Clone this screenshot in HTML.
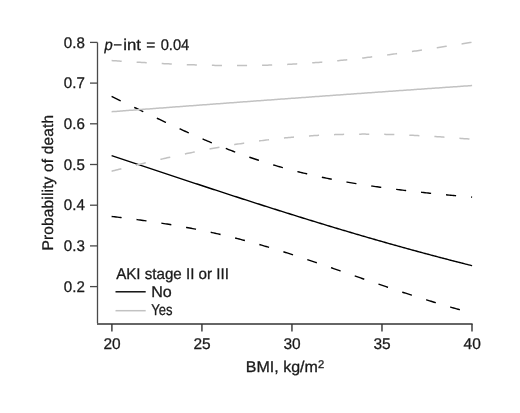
<!DOCTYPE html>
<html><head><meta charset="utf-8"><style>
html,body{margin:0;padding:0;background:#fff;}
svg{display:block;will-change:transform;}
text{font-family:"Liberation Sans",sans-serif;font-size:15.5px;fill:#1a1a1a;text-rendering:geometricPrecision;stroke:#1a1a1a;stroke-width:0.3px;}
</style></head><body>
<svg width="520" height="413" viewBox="0 0 520 413">
<rect width="520" height="413" fill="#fff"/>
<g fill="none" stroke-linecap="butt" stroke-linejoin="round">
<path d="M111.60 96.44 L113.10 97.16 L114.60 97.88 L116.10 98.61 L117.60 99.33 L119.10 100.05 L120.60 100.77 L122.10 101.50 L123.60 102.22 L125.10 102.94 L126.60 103.67 L128.10 104.39 L129.60 105.11 L131.10 105.84 L132.60 106.56 L134.10 107.28 L135.60 108.00 L137.10 108.73 L138.60 109.45 L140.10 110.17 L141.60 110.89 L143.10 111.61 L144.60 112.33 L146.10 113.04 L147.60 113.76 L149.10 114.48 L150.60 115.19 L152.10 115.91 L153.60 116.62 L155.10 117.33 L156.60 118.04 L158.10 118.75 L159.60 119.46 L161.10 120.17 L162.60 120.88 L164.10 121.58 L165.60 122.28 L167.10 122.98 L168.60 123.68 L170.10 124.38 L171.60 125.08 L173.10 125.77 L174.60 126.46 L176.10 127.15 L177.60 127.84 L179.10 128.52 L180.60 129.21 L182.10 129.89 L183.60 130.57 L185.10 131.24 L186.60 131.92 L188.10 132.59 L189.60 133.26 L191.10 133.92 L192.60 134.59 L194.10 135.25 L195.60 135.90 L197.10 136.56 L198.60 137.21 L200.10 137.86 L201.60 138.51 L203.10 139.15 L204.60 139.79 L206.10 140.42 L207.60 141.06 L209.10 141.69 L210.60 142.31 L212.10 142.93 L213.60 143.55 L215.10 144.17 L216.60 144.78 L218.10 145.39 L219.60 145.99 L221.10 146.59 L222.60 147.19 L224.10 147.78 L225.60 148.37 L227.10 148.96 L228.60 149.54 L230.10 150.11 L231.60 150.69 L233.10 151.26 L234.60 151.82 L236.10 152.38 L237.60 152.94 L239.10 153.49 L240.60 154.04 L242.10 154.58 L243.60 155.12 L245.10 155.65 L246.60 156.18 L248.10 156.71 L249.60 157.23 L251.10 157.75 L252.60 158.26 L254.10 158.77 L255.60 159.27 L257.10 159.77 L258.60 160.27 L260.10 160.76 L261.60 161.25 L263.10 161.73 L264.60 162.20 L266.10 162.68 L267.60 163.14 L269.10 163.61 L270.60 164.07 L272.10 164.52 L273.60 164.97 L275.10 165.42 L276.60 165.86 L278.10 166.30 L279.60 166.73 L281.10 167.16 L282.60 167.58 L284.10 168.00 L285.60 168.41 L287.10 168.82 L288.60 169.23 L290.10 169.63 L291.60 170.03 L293.10 170.42 L294.60 170.81 L296.10 171.20 L297.60 171.58 L299.10 171.96 L300.60 172.33 L302.10 172.70 L303.60 173.06 L305.10 173.42 L306.60 173.78 L308.10 174.13 L309.60 174.48 L311.10 174.83 L312.60 175.17 L314.10 175.51 L315.60 175.84 L317.10 176.17 L318.60 176.50 L320.10 176.82 L321.60 177.14 L323.10 177.46 L324.60 177.77 L326.10 178.08 L327.60 178.38 L329.10 178.69 L330.60 178.99 L332.10 179.28 L333.60 179.57 L335.10 179.86 L336.60 180.15 L338.10 180.43 L339.60 180.71 L341.10 180.99 L342.60 181.26 L344.10 181.53 L345.60 181.80 L347.10 182.07 L348.60 182.33 L350.10 182.59 L351.60 182.84 L353.10 183.10 L354.60 183.35 L356.10 183.60 L357.60 183.84 L359.10 184.08 L360.60 184.33 L362.10 184.56 L363.60 184.80 L365.10 185.03 L366.60 185.26 L368.10 185.49 L369.60 185.72 L371.10 185.94 L372.60 186.16 L374.10 186.38 L375.60 186.60 L377.10 186.81 L378.60 187.02 L380.10 187.24 L381.60 187.44 L383.10 187.65 L384.60 187.85 L386.10 188.06 L387.60 188.26 L389.10 188.46 L390.60 188.65 L392.10 188.85 L393.60 189.04 L395.10 189.23 L396.60 189.42 L398.10 189.61 L399.60 189.79 L401.10 189.98 L402.60 190.16 L404.10 190.34 L405.60 190.52 L407.10 190.70 L408.60 190.87 L410.10 191.05 L411.60 191.22 L413.10 191.39 L414.60 191.56 L416.10 191.73 L417.60 191.90 L419.10 192.06 L420.60 192.22 L422.10 192.39 L423.60 192.55 L425.10 192.71 L426.60 192.87 L428.10 193.02 L429.60 193.18 L431.10 193.34 L432.60 193.49 L434.10 193.64 L435.60 193.79 L437.10 193.94 L438.60 194.09 L440.10 194.24 L441.60 194.39 L443.10 194.53 L444.60 194.67 L446.10 194.82 L447.60 194.96 L449.10 195.10 L450.60 195.24 L452.10 195.38 L453.60 195.52 L455.10 195.66 L456.60 195.79 L458.10 195.93 L459.60 196.06 L461.10 196.19 L462.60 196.33 L464.10 196.46 L465.60 196.59 L467.10 196.72 L468.60 196.85 L470.10 196.97 L471.60 197.10 L472.10 197.14" stroke="#000" stroke-width="1.4" stroke-dasharray="10.1 15"/>
<path d="M111.60 216.45 L113.10 216.62 L114.60 216.80 L116.10 216.97 L117.60 217.15 L119.10 217.33 L120.60 217.52 L122.10 217.70 L123.60 217.88 L125.10 218.07 L126.60 218.26 L128.10 218.45 L129.60 218.64 L131.10 218.83 L132.60 219.03 L134.10 219.23 L135.60 219.42 L137.10 219.62 L138.60 219.83 L140.10 220.03 L141.60 220.24 L143.10 220.45 L144.60 220.66 L146.10 220.87 L147.60 221.08 L149.10 221.30 L150.60 221.52 L152.10 221.74 L153.60 221.96 L155.10 222.18 L156.60 222.41 L158.10 222.64 L159.60 222.87 L161.10 223.11 L162.60 223.34 L164.10 223.58 L165.60 223.82 L167.10 224.06 L168.60 224.31 L170.10 224.56 L171.60 224.81 L173.10 225.06 L174.60 225.32 L176.10 225.57 L177.60 225.83 L179.10 226.10 L180.60 226.36 L182.10 226.63 L183.60 226.90 L185.10 227.18 L186.60 227.45 L188.10 227.73 L189.60 228.01 L191.10 228.30 L192.60 228.59 L194.10 228.88 L195.60 229.17 L197.10 229.47 L198.60 229.77 L200.10 230.07 L201.60 230.37 L203.10 230.68 L204.60 230.99 L206.10 231.31 L207.60 231.63 L209.10 231.95 L210.60 232.27 L212.10 232.60 L213.60 232.93 L215.10 233.26 L216.60 233.60 L218.10 233.94 L219.60 234.28 L221.10 234.62 L222.60 234.97 L224.10 235.33 L225.60 235.68 L227.10 236.04 L228.60 236.40 L230.10 236.77 L231.60 237.14 L233.10 237.51 L234.60 237.88 L236.10 238.26 L237.60 238.64 L239.10 239.03 L240.60 239.41 L242.10 239.81 L243.60 240.20 L245.10 240.60 L246.60 241.00 L248.10 241.40 L249.60 241.81 L251.10 242.22 L252.60 242.63 L254.10 243.05 L255.60 243.47 L257.10 243.89 L258.60 244.32 L260.10 244.74 L261.60 245.18 L263.10 245.61 L264.60 246.05 L266.10 246.49 L267.60 246.93 L269.10 247.38 L270.60 247.83 L272.10 248.28 L273.60 248.73 L275.10 249.19 L276.60 249.65 L278.10 250.11 L279.60 250.57 L281.10 251.04 L282.60 251.51 L284.10 251.98 L285.60 252.46 L287.10 252.93 L288.60 253.41 L290.10 253.89 L291.60 254.38 L293.10 254.86 L294.60 255.35 L296.10 255.84 L297.60 256.33 L299.10 256.82 L300.60 257.32 L302.10 257.81 L303.60 258.31 L305.10 258.81 L306.60 259.31 L308.10 259.82 L309.60 260.32 L311.10 260.83 L312.60 261.34 L314.10 261.85 L315.60 262.36 L317.10 262.87 L318.60 263.38 L320.10 263.89 L321.60 264.41 L323.10 264.92 L324.60 265.44 L326.10 265.96 L327.60 266.47 L329.10 266.99 L330.60 267.51 L332.10 268.03 L333.60 268.55 L335.10 269.07 L336.60 269.60 L338.10 270.12 L339.60 270.64 L341.10 271.16 L342.60 271.69 L344.10 272.21 L345.60 272.73 L347.10 273.25 L348.60 273.78 L350.10 274.30 L351.60 274.82 L353.10 275.35 L354.60 275.87 L356.10 276.39 L357.60 276.91 L359.10 277.43 L360.60 277.96 L362.10 278.48 L363.60 279.00 L365.10 279.52 L366.60 280.04 L368.10 280.55 L369.60 281.07 L371.10 281.59 L372.60 282.11 L374.10 282.62 L375.60 283.14 L377.10 283.65 L378.60 284.16 L380.10 284.68 L381.60 285.19 L383.10 285.70 L384.60 286.21 L386.10 286.71 L387.60 287.22 L389.10 287.73 L390.60 288.23 L392.10 288.73 L393.60 289.24 L395.10 289.74 L396.60 290.23 L398.10 290.73 L399.60 291.23 L401.10 291.72 L402.60 292.22 L404.10 292.71 L405.60 293.20 L407.10 293.69 L408.60 294.18 L410.10 294.66 L411.60 295.15 L413.10 295.63 L414.60 296.11 L416.10 296.59 L417.60 297.07 L419.10 297.54 L420.60 298.02 L422.10 298.49 L423.60 298.96 L425.10 299.43 L426.60 299.90 L428.10 300.36 L429.60 300.83 L431.10 301.29 L432.60 301.75 L434.10 302.21 L435.60 302.66 L437.10 303.11 L438.60 303.57 L440.10 304.02 L441.60 304.46 L443.10 304.91 L444.60 305.36 L446.10 305.80 L447.60 306.24 L449.10 306.68 L450.60 307.11 L452.10 307.55 L453.60 307.98 L455.10 308.41 L456.60 308.83 L458.10 309.26 L459.60 309.68 L461.10 310.11 L462.60 310.53 L464.10 310.94 L465.60 311.36 L467.10 311.77 L468.60 312.18 L470.10 312.59 L471.60 313.00 L472.10 313.13" stroke="#000" stroke-width="1.4" stroke-dasharray="10.1 15"/>
<path d="M111.60 155.68 L113.10 156.17 L114.60 156.67 L116.10 157.17 L117.60 157.67 L119.10 158.17 L120.60 158.66 L122.10 159.16 L123.60 159.66 L125.10 160.16 L126.60 160.66 L128.10 161.16 L129.60 161.66 L131.10 162.15 L132.60 162.65 L134.10 163.15 L135.60 163.65 L137.10 164.15 L138.60 164.65 L140.10 165.15 L141.60 165.65 L143.10 166.14 L144.60 166.64 L146.10 167.14 L147.60 167.64 L149.10 168.14 L150.60 168.64 L152.10 169.14 L153.60 169.63 L155.10 170.13 L156.60 170.63 L158.10 171.13 L159.60 171.63 L161.10 172.13 L162.60 172.62 L164.10 173.12 L165.60 173.62 L167.10 174.12 L168.60 174.62 L170.10 175.11 L171.60 175.61 L173.10 176.11 L174.60 176.60 L176.10 177.10 L177.60 177.60 L179.10 178.10 L180.60 178.59 L182.10 179.09 L183.60 179.58 L185.10 180.08 L186.60 180.58 L188.10 181.07 L189.60 181.57 L191.10 182.06 L192.60 182.56 L194.10 183.05 L195.60 183.55 L197.10 184.04 L198.60 184.53 L200.10 185.03 L201.60 185.52 L203.10 186.02 L204.60 186.51 L206.10 187.00 L207.60 187.49 L209.10 187.99 L210.60 188.48 L212.10 188.97 L213.60 189.46 L215.10 189.95 L216.60 190.44 L218.10 190.93 L219.60 191.42 L221.10 191.91 L222.60 192.40 L224.10 192.89 L225.60 193.38 L227.10 193.87 L228.60 194.36 L230.10 194.85 L231.60 195.33 L233.10 195.82 L234.60 196.31 L236.10 196.79 L237.60 197.28 L239.10 197.77 L240.60 198.25 L242.10 198.74 L243.60 199.22 L245.10 199.70 L246.60 200.19 L248.10 200.67 L249.60 201.15 L251.10 201.64 L252.60 202.12 L254.10 202.60 L255.60 203.08 L257.10 203.56 L258.60 204.04 L260.10 204.52 L261.60 205.00 L263.10 205.48 L264.60 205.96 L266.10 206.44 L267.60 206.91 L269.10 207.39 L270.60 207.87 L272.10 208.34 L273.60 208.82 L275.10 209.29 L276.60 209.77 L278.10 210.24 L279.60 210.71 L281.10 211.19 L282.60 211.66 L284.10 212.13 L285.60 212.60 L287.10 213.07 L288.60 213.54 L290.10 214.01 L291.60 214.48 L293.10 214.95 L294.60 215.42 L296.10 215.88 L297.60 216.35 L299.10 216.82 L300.60 217.28 L302.10 217.75 L303.60 218.21 L305.10 218.68 L306.60 219.14 L308.10 219.60 L309.60 220.06 L311.10 220.52 L312.60 220.99 L314.10 221.45 L315.60 221.91 L317.10 222.36 L318.60 222.82 L320.10 223.28 L321.60 223.74 L323.10 224.19 L324.60 224.65 L326.10 225.10 L327.60 225.56 L329.10 226.01 L330.60 226.46 L332.10 226.92 L333.60 227.37 L335.10 227.82 L336.60 228.27 L338.10 228.72 L339.60 229.17 L341.10 229.61 L342.60 230.06 L344.10 230.51 L345.60 230.95 L347.10 231.40 L348.60 231.84 L350.10 232.29 L351.60 232.73 L353.10 233.17 L354.60 233.62 L356.10 234.06 L357.60 234.50 L359.10 234.94 L360.60 235.37 L362.10 235.81 L363.60 236.25 L365.10 236.69 L366.60 237.12 L368.10 237.56 L369.60 237.99 L371.10 238.42 L372.60 238.86 L374.10 239.29 L375.60 239.72 L377.10 240.15 L378.60 240.58 L380.10 241.01 L381.60 241.44 L383.10 241.86 L384.60 242.29 L386.10 242.71 L387.60 243.14 L389.10 243.56 L390.60 243.99 L392.10 244.41 L393.60 244.83 L395.10 245.25 L396.60 245.67 L398.10 246.09 L399.60 246.51 L401.10 246.92 L402.60 247.34 L404.10 247.76 L405.60 248.17 L407.10 248.59 L408.60 249.00 L410.10 249.41 L411.60 249.82 L413.10 250.23 L414.60 250.64 L416.10 251.05 L417.60 251.46 L419.10 251.87 L420.60 252.27 L422.10 252.68 L423.60 253.08 L425.10 253.49 L426.60 253.89 L428.10 254.29 L429.60 254.69 L431.10 255.10 L432.60 255.49 L434.10 255.89 L435.60 256.29 L437.10 256.69 L438.60 257.08 L440.10 257.48 L441.60 257.87 L443.10 258.27 L444.60 258.66 L446.10 259.05 L447.60 259.44 L449.10 259.83 L450.60 260.22 L452.10 260.61 L453.60 260.99 L455.10 261.38 L456.60 261.77 L458.10 262.15 L459.60 262.53 L461.10 262.92 L462.60 263.30 L464.10 263.68 L465.60 264.06 L467.10 264.44 L468.60 264.82 L470.10 265.19 L471.60 265.57 L472.10 265.69" stroke="#000" stroke-width="1.4"/>
<path d="M111.60 60.53 L113.10 60.64 L114.60 60.74 L116.10 60.84 L117.60 60.94 L119.10 61.04 L120.60 61.14 L122.10 61.24 L123.60 61.33 L125.10 61.43 L126.60 61.53 L128.10 61.62 L129.60 61.72 L131.10 61.81 L132.60 61.90 L134.10 62.00 L135.60 62.09 L137.10 62.18 L138.60 62.27 L140.10 62.36 L141.60 62.45 L143.10 62.53 L144.60 62.62 L146.10 62.71 L147.60 62.79 L149.10 62.87 L150.60 62.96 L152.10 63.04 L153.60 63.12 L155.10 63.20 L156.60 63.28 L158.10 63.35 L159.60 63.43 L161.10 63.51 L162.60 63.58 L164.10 63.66 L165.60 63.73 L167.10 63.80 L168.60 63.87 L170.10 63.94 L171.60 64.01 L173.10 64.07 L174.60 64.14 L176.10 64.20 L177.60 64.27 L179.10 64.33 L180.60 64.39 L182.10 64.45 L183.60 64.51 L185.10 64.56 L186.60 64.62 L188.10 64.67 L189.60 64.72 L191.10 64.78 L192.60 64.83 L194.10 64.87 L195.60 64.92 L197.10 64.97 L198.60 65.01 L200.10 65.05 L201.60 65.09 L203.10 65.13 L204.60 65.17 L206.10 65.21 L207.60 65.24 L209.10 65.28 L210.60 65.31 L212.10 65.34 L213.60 65.37 L215.10 65.39 L216.60 65.42 L218.10 65.44 L219.60 65.46 L221.10 65.48 L222.60 65.50 L224.10 65.52 L225.60 65.53 L227.10 65.55 L228.60 65.56 L230.10 65.57 L231.60 65.57 L233.10 65.58 L234.60 65.58 L236.10 65.58 L237.60 65.58 L239.10 65.58 L240.60 65.58 L242.10 65.57 L243.60 65.56 L245.10 65.55 L246.60 65.54 L248.10 65.52 L249.60 65.51 L251.10 65.49 L252.60 65.47 L254.10 65.45 L255.60 65.42 L257.10 65.39 L258.60 65.36 L260.10 65.33 L261.60 65.30 L263.10 65.26 L264.60 65.23 L266.10 65.19 L267.60 65.14 L269.10 65.10 L270.60 65.05 L272.10 65.01 L273.60 64.95 L275.10 64.90 L276.60 64.85 L278.10 64.79 L279.60 64.73 L281.10 64.67 L282.60 64.60 L284.10 64.53 L285.60 64.47 L287.10 64.39 L288.60 64.32 L290.10 64.25 L291.60 64.17 L293.10 64.09 L294.60 64.00 L296.10 63.92 L297.60 63.83 L299.10 63.74 L300.60 63.65 L302.10 63.56 L303.60 63.46 L305.10 63.36 L306.60 63.26 L308.10 63.16 L309.60 63.06 L311.10 62.95 L312.60 62.84 L314.10 62.73 L315.60 62.61 L317.10 62.50 L318.60 62.38 L320.10 62.26 L321.60 62.14 L323.10 62.01 L324.60 61.88 L326.10 61.76 L327.60 61.63 L329.10 61.49 L330.60 61.36 L332.10 61.22 L333.60 61.08 L335.10 60.94 L336.60 60.80 L338.10 60.65 L339.60 60.50 L341.10 60.36 L342.60 60.20 L344.10 60.05 L345.60 59.90 L347.10 59.74 L348.60 59.58 L350.10 59.42 L351.60 59.26 L353.10 59.09 L354.60 58.93 L356.10 58.76 L357.60 58.59 L359.10 58.42 L360.60 58.25 L362.10 58.07 L363.60 57.90 L365.10 57.72 L366.60 57.54 L368.10 57.36 L369.60 57.18 L371.10 57.00 L372.60 56.81 L374.10 56.62 L375.60 56.44 L377.10 56.25 L378.60 56.05 L380.10 55.86 L381.60 55.67 L383.10 55.47 L384.60 55.28 L386.10 55.08 L387.60 54.88 L389.10 54.68 L390.60 54.48 L392.10 54.28 L393.60 54.07 L395.10 53.87 L396.60 53.66 L398.10 53.45 L399.60 53.24 L401.10 53.03 L402.60 52.82 L404.10 52.61 L405.60 52.40 L407.10 52.19 L408.60 51.97 L410.10 51.76 L411.60 51.54 L413.10 51.32 L414.60 51.10 L416.10 50.89 L417.60 50.67 L419.10 50.45 L420.60 50.22 L422.10 50.00 L423.60 49.78 L425.10 49.56 L426.60 49.33 L428.10 49.11 L429.60 48.88 L431.10 48.65 L432.60 48.43 L434.10 48.20 L435.60 47.97 L437.10 47.74 L438.60 47.51 L440.10 47.28 L441.60 47.05 L443.10 46.82 L444.60 46.59 L446.10 46.36 L447.60 46.13 L449.10 45.89 L450.60 45.66 L452.10 45.43 L453.60 45.19 L455.10 44.96 L456.60 44.72 L458.10 44.49 L459.60 44.25 L461.10 44.02 L462.60 43.78 L464.10 43.55 L465.60 43.31 L467.10 43.07 L468.60 42.84 L470.10 42.60 L471.60 42.36 L472.10 42.28" stroke="#c2c2c2" stroke-width="1.5" stroke-dasharray="10.1 15"/>
<path d="M111.60 171.23 L113.10 170.85 L114.60 170.46 L116.10 170.08 L117.60 169.71 L119.10 169.33 L120.60 168.95 L122.10 168.57 L123.60 168.20 L125.10 167.83 L126.60 167.45 L128.10 167.08 L129.60 166.71 L131.10 166.34 L132.60 165.97 L134.10 165.60 L135.60 165.24 L137.10 164.87 L138.60 164.51 L140.10 164.15 L141.60 163.79 L143.10 163.42 L144.60 163.07 L146.10 162.71 L147.60 162.35 L149.10 162.00 L150.60 161.64 L152.10 161.29 L153.60 160.94 L155.10 160.59 L156.60 160.24 L158.10 159.89 L159.60 159.55 L161.10 159.21 L162.60 158.86 L164.10 158.52 L165.60 158.18 L167.10 157.85 L168.60 157.51 L170.10 157.17 L171.60 156.84 L173.10 156.51 L174.60 156.18 L176.10 155.85 L177.60 155.53 L179.10 155.20 L180.60 154.88 L182.10 154.56 L183.60 154.24 L185.10 153.92 L186.60 153.60 L188.10 153.29 L189.60 152.98 L191.10 152.67 L192.60 152.36 L194.10 152.05 L195.60 151.75 L197.10 151.45 L198.60 151.15 L200.10 150.85 L201.60 150.55 L203.10 150.26 L204.60 149.97 L206.10 149.68 L207.60 149.39 L209.10 149.10 L210.60 148.82 L212.10 148.54 L213.60 148.26 L215.10 147.98 L216.60 147.71 L218.10 147.43 L219.60 147.16 L221.10 146.90 L222.60 146.63 L224.10 146.37 L225.60 146.11 L227.10 145.85 L228.60 145.59 L230.10 145.34 L231.60 145.09 L233.10 144.84 L234.60 144.60 L236.10 144.35 L237.60 144.11 L239.10 143.87 L240.60 143.64 L242.10 143.41 L243.60 143.18 L245.10 142.95 L246.60 142.72 L248.10 142.50 L249.60 142.28 L251.10 142.07 L252.60 141.85 L254.10 141.64 L255.60 141.43 L257.10 141.23 L258.60 141.02 L260.10 140.82 L261.60 140.63 L263.10 140.43 L264.60 140.24 L266.10 140.05 L267.60 139.87 L269.10 139.68 L270.60 139.50 L272.10 139.33 L273.60 139.15 L275.10 138.98 L276.60 138.81 L278.10 138.65 L279.60 138.49 L281.10 138.33 L282.60 138.17 L284.10 138.02 L285.60 137.87 L287.10 137.72 L288.60 137.58 L290.10 137.44 L291.60 137.30 L293.10 137.16 L294.60 137.03 L296.10 136.90 L297.60 136.78 L299.10 136.65 L300.60 136.53 L302.10 136.42 L303.60 136.30 L305.10 136.19 L306.60 136.08 L308.10 135.98 L309.60 135.88 L311.10 135.78 L312.60 135.68 L314.10 135.59 L315.60 135.50 L317.10 135.41 L318.60 135.33 L320.10 135.25 L321.60 135.17 L323.10 135.09 L324.60 135.02 L326.10 134.95 L327.60 134.88 L329.10 134.82 L330.60 134.76 L332.10 134.70 L333.60 134.65 L335.10 134.60 L336.60 134.55 L338.10 134.50 L339.60 134.46 L341.10 134.42 L342.60 134.38 L344.10 134.34 L345.60 134.31 L347.10 134.28 L348.60 134.25 L350.10 134.23 L351.60 134.21 L353.10 134.19 L354.60 134.17 L356.10 134.16 L357.60 134.14 L359.10 134.14 L360.60 134.13 L362.10 134.12 L363.60 134.12 L365.10 134.12 L366.60 134.13 L368.10 134.13 L369.60 134.14 L371.10 134.15 L372.60 134.17 L374.10 134.18 L375.60 134.20 L377.10 134.22 L378.60 134.24 L380.10 134.27 L381.60 134.29 L383.10 134.32 L384.60 134.36 L386.10 134.39 L387.60 134.42 L389.10 134.46 L390.60 134.50 L392.10 134.54 L393.60 134.59 L395.10 134.64 L396.60 134.68 L398.10 134.73 L399.60 134.79 L401.10 134.84 L402.60 134.90 L404.10 134.95 L405.60 135.01 L407.10 135.08 L408.60 135.14 L410.10 135.21 L411.60 135.27 L413.10 135.34 L414.60 135.41 L416.10 135.49 L417.60 135.56 L419.10 135.64 L420.60 135.71 L422.10 135.79 L423.60 135.88 L425.10 135.96 L426.60 136.04 L428.10 136.13 L429.60 136.22 L431.10 136.31 L432.60 136.40 L434.10 136.49 L435.60 136.58 L437.10 136.68 L438.60 136.77 L440.10 136.87 L441.60 136.97 L443.10 137.07 L444.60 137.17 L446.10 137.28 L447.60 137.38 L449.10 137.49 L450.60 137.60 L452.10 137.71 L453.60 137.82 L455.10 137.93 L456.60 138.04 L458.10 138.16 L459.60 138.27 L461.10 138.39 L462.60 138.51 L464.10 138.63 L465.60 138.75 L467.10 138.87 L468.60 138.99 L470.10 139.11 L471.60 139.24 L472.10 139.28" stroke="#c2c2c2" stroke-width="1.5" stroke-dasharray="10.1 15"/>
<path d="M111.60 111.72 L113.10 111.60 L114.60 111.49 L116.10 111.38 L117.60 111.26 L119.10 111.15 L120.60 111.04 L122.10 110.92 L123.60 110.81 L125.10 110.70 L126.60 110.58 L128.10 110.47 L129.60 110.36 L131.10 110.24 L132.60 110.13 L134.10 110.02 L135.60 109.90 L137.10 109.79 L138.60 109.68 L140.10 109.57 L141.60 109.45 L143.10 109.34 L144.60 109.23 L146.10 109.11 L147.60 109.00 L149.10 108.89 L150.60 108.78 L152.10 108.66 L153.60 108.55 L155.10 108.44 L156.60 108.33 L158.10 108.21 L159.60 108.10 L161.10 107.99 L162.60 107.88 L164.10 107.76 L165.60 107.65 L167.10 107.54 L168.60 107.43 L170.10 107.31 L171.60 107.20 L173.10 107.09 L174.60 106.98 L176.10 106.87 L177.60 106.75 L179.10 106.64 L180.60 106.53 L182.10 106.42 L183.60 106.31 L185.10 106.19 L186.60 106.08 L188.10 105.97 L189.60 105.86 L191.10 105.75 L192.60 105.64 L194.10 105.52 L195.60 105.41 L197.10 105.30 L198.60 105.19 L200.10 105.08 L201.60 104.97 L203.10 104.85 L204.60 104.74 L206.10 104.63 L207.60 104.52 L209.10 104.41 L210.60 104.30 L212.10 104.19 L213.60 104.08 L215.10 103.97 L216.60 103.85 L218.10 103.74 L219.60 103.63 L221.10 103.52 L222.60 103.41 L224.10 103.30 L225.60 103.19 L227.10 103.08 L228.60 102.97 L230.10 102.86 L231.60 102.75 L233.10 102.64 L234.60 102.52 L236.10 102.41 L237.60 102.30 L239.10 102.19 L240.60 102.08 L242.10 101.97 L243.60 101.86 L245.10 101.75 L246.60 101.64 L248.10 101.53 L249.60 101.42 L251.10 101.31 L252.60 101.20 L254.10 101.09 L255.60 100.98 L257.10 100.87 L258.60 100.76 L260.10 100.65 L261.60 100.54 L263.10 100.43 L264.60 100.32 L266.10 100.21 L267.60 100.10 L269.10 99.99 L270.60 99.88 L272.10 99.77 L273.60 99.67 L275.10 99.56 L276.60 99.45 L278.10 99.34 L279.60 99.23 L281.10 99.12 L282.60 99.01 L284.10 98.90 L285.60 98.79 L287.10 98.68 L288.60 98.57 L290.10 98.46 L291.60 98.35 L293.10 98.25 L294.60 98.14 L296.10 98.03 L297.60 97.92 L299.10 97.81 L300.60 97.70 L302.10 97.59 L303.60 97.48 L305.10 97.38 L306.60 97.27 L308.10 97.16 L309.60 97.05 L311.10 96.94 L312.60 96.83 L314.10 96.73 L315.60 96.62 L317.10 96.51 L318.60 96.40 L320.10 96.29 L321.60 96.18 L323.10 96.08 L324.60 95.97 L326.10 95.86 L327.60 95.75 L329.10 95.64 L330.60 95.54 L332.10 95.43 L333.60 95.32 L335.10 95.21 L336.60 95.11 L338.10 95.00 L339.60 94.89 L341.10 94.78 L342.60 94.68 L344.10 94.57 L345.60 94.46 L347.10 94.35 L348.60 94.25 L350.10 94.14 L351.60 94.03 L353.10 93.92 L354.60 93.82 L356.10 93.71 L357.60 93.60 L359.10 93.50 L360.60 93.39 L362.10 93.28 L363.60 93.17 L365.10 93.07 L366.60 92.96 L368.10 92.85 L369.60 92.75 L371.10 92.64 L372.60 92.53 L374.10 92.43 L375.60 92.32 L377.10 92.21 L378.60 92.11 L380.10 92.00 L381.60 91.90 L383.10 91.79 L384.60 91.68 L386.10 91.58 L387.60 91.47 L389.10 91.36 L390.60 91.26 L392.10 91.15 L393.60 91.05 L395.10 90.94 L396.60 90.83 L398.10 90.73 L399.60 90.62 L401.10 90.52 L402.60 90.41 L404.10 90.31 L405.60 90.20 L407.10 90.10 L408.60 89.99 L410.10 89.88 L411.60 89.78 L413.10 89.67 L414.60 89.57 L416.10 89.46 L417.60 89.36 L419.10 89.25 L420.60 89.15 L422.10 89.04 L423.60 88.94 L425.10 88.83 L426.60 88.73 L428.10 88.62 L429.60 88.52 L431.10 88.41 L432.60 88.31 L434.10 88.20 L435.60 88.10 L437.10 87.99 L438.60 87.89 L440.10 87.78 L441.60 87.68 L443.10 87.58 L444.60 87.47 L446.10 87.37 L447.60 87.26 L449.10 87.16 L450.60 87.05 L452.10 86.95 L453.60 86.85 L455.10 86.74 L456.60 86.64 L458.10 86.53 L459.60 86.43 L461.10 86.33 L462.60 86.22 L464.10 86.12 L465.60 86.01 L467.10 85.91 L468.60 85.81 L470.10 85.70 L471.60 85.60 L472.10 85.57" stroke="#c2c2c2" stroke-width="1.5"/>
</g>
<g stroke="#4a4a4a" stroke-width="1.3" fill="none">
<path d="M97.5 42.4 V323.3"/>
<line x1="90" x2="97.5" y1="286.60" y2="286.60"/><line x1="90" x2="97.5" y1="245.90" y2="245.90"/><line x1="90" x2="97.5" y1="205.20" y2="205.20"/><line x1="90" x2="97.5" y1="164.50" y2="164.50"/><line x1="90" x2="97.5" y1="123.80" y2="123.80"/><line x1="90" x2="97.5" y1="83.10" y2="83.10"/><line x1="90" x2="97.5" y1="42.40" y2="42.40"/>
</g>
<g stroke="#333" stroke-width="1.4" fill="none">
<path d="M97 324 H472.6"/>
<line y1="324" y2="331.5" x1="111.90" x2="111.90"/><line y1="324" y2="331.5" x1="201.93" x2="201.93"/><line y1="324" y2="331.5" x1="291.95" x2="291.95"/><line y1="324" y2="331.5" x1="381.98" x2="381.98"/><line y1="324" y2="331.5" x1="472.00" x2="472.00"/>
</g>
<line x1="115.5" x2="145.7" y1="291.8" y2="291.8" stroke="#000" stroke-width="1.4"/>
<line x1="115.5" x2="145.7" y1="310.7" y2="310.7" stroke="#c2c2c2" stroke-width="1.5"/>
<text x="84.80" y="291.80" text-anchor="end" textLength="21.00" lengthAdjust="spacingAndGlyphs">0.2</text><text x="84.80" y="251.10" text-anchor="end" textLength="21.00" lengthAdjust="spacingAndGlyphs">0.3</text><text x="84.80" y="210.40" text-anchor="end" textLength="21.00" lengthAdjust="spacingAndGlyphs">0.4</text><text x="84.80" y="169.70" text-anchor="end" textLength="21.00" lengthAdjust="spacingAndGlyphs">0.5</text><text x="84.80" y="129.00" text-anchor="end" textLength="21.00" lengthAdjust="spacingAndGlyphs">0.6</text><text x="84.80" y="88.30" text-anchor="end" textLength="21.00" lengthAdjust="spacingAndGlyphs">0.7</text><text x="84.80" y="47.60" text-anchor="end" textLength="21.00" lengthAdjust="spacingAndGlyphs">0.8</text><text x="112.05" y="349.00" text-anchor="middle" textLength="17.22" lengthAdjust="spacingAndGlyphs">20</text><text x="202.07" y="349.00" text-anchor="middle" textLength="17.22" lengthAdjust="spacingAndGlyphs">25</text><text x="292.10" y="349.00" text-anchor="middle" textLength="17.22" lengthAdjust="spacingAndGlyphs">30</text><text x="382.12" y="349.00" text-anchor="middle" textLength="17.22" lengthAdjust="spacingAndGlyphs">35</text><text x="472.15" y="349.00" text-anchor="middle" textLength="17.22" lengthAdjust="spacingAndGlyphs">40</text><text x="245.85" y="372.30" textLength="72.01" lengthAdjust="spacingAndGlyphs">BMI, kg/m</text><text x="318.10" y="368.20" style="font-size:11.2px">2</text><text transform="translate(52.90 250.50) rotate(-90)" x="0" y="0" textLength="135.54" lengthAdjust="spacing">Probability of death</text><text x="104.46" y="49.60" textLength="8.25" lengthAdjust="spacingAndGlyphs" font-style="italic">p</text><text x="113.32" y="49.60" textLength="8.86" lengthAdjust="spacingAndGlyphs">&#8722;</text><text x="123.31" y="49.60" textLength="17.72" lengthAdjust="spacingAndGlyphs">int</text><text x="146.33" y="49.60" textLength="9.07" lengthAdjust="spacingAndGlyphs">=</text><text x="160.65" y="49.60" textLength="28.59" lengthAdjust="spacingAndGlyphs">0.04</text><text x="116.15" y="279.00" textLength="112.74" lengthAdjust="spacingAndGlyphs">AKI stage II or III</text><text x="151.15" y="296.90" textLength="20.54" lengthAdjust="spacingAndGlyphs">No</text><text x="151.17" y="314.60" textLength="21.24" lengthAdjust="spacingAndGlyphs">Yes</text>
</svg>
</body></html>
